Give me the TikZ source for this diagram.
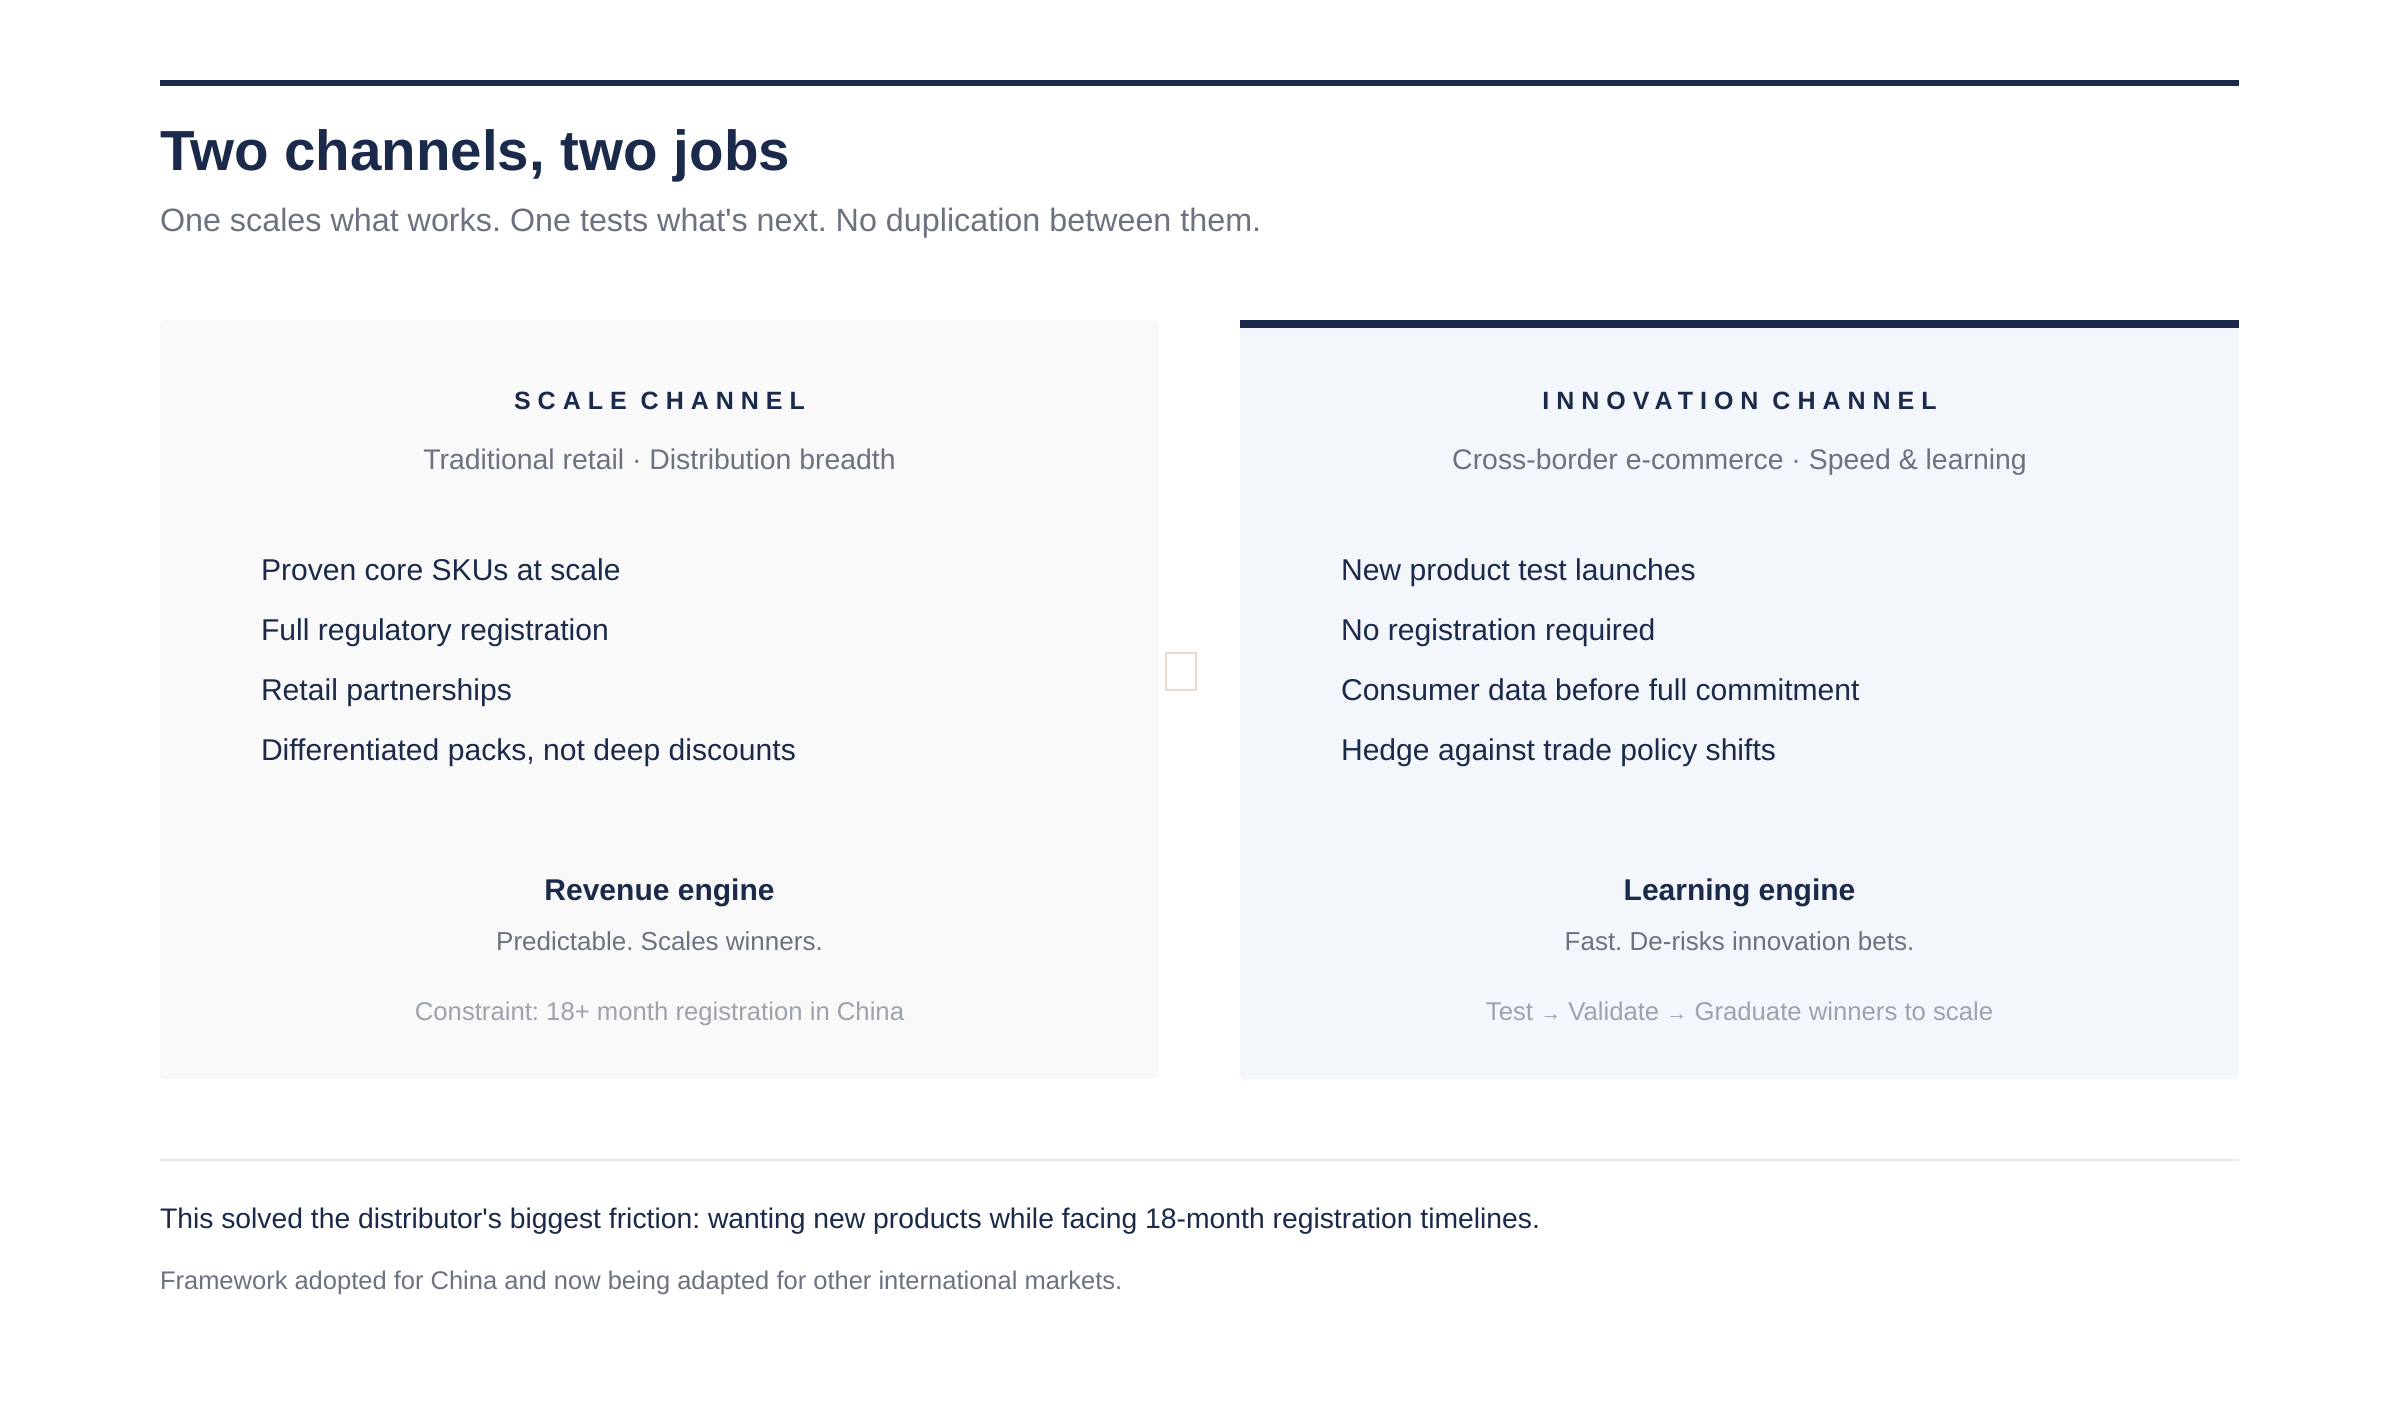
\documentclass[tikz,border=0pt]{standalone}
\usepackage{fontspec}
\setmainfont{Liberation Sans}[Ligatures=TeXOff]
\frenchspacing
\definecolor{navy}{HTML}{1B2A4A}
\definecolor{midgray}{HTML}{6B7280}
\definecolor{lightgray}{HTML}{9CA3AF}
\definecolor{panelL}{HTML}{F9F9F9}
\definecolor{panelR}{HTML}{F3F6FB}
\definecolor{rulegray}{HTML}{E5E7EB}
\definecolor{boxedge}{HTML}{E6DCCB}
\tikzset{
  txt/.style={inner sep=0pt, outer sep=0pt},
  titlesty/.style={txt, anchor=base west, text=navy, font=\fontsize{56.5}{60}\selectfont\bfseries},
  substy/.style={txt, anchor=base west, text=midgray, font=\fontsize{32.3}{36}\selectfont},
  headsty/.style={txt, anchor=base, text=navy, font=\fontsize{25}{30}\selectfont\bfseries\addfontfeature{LetterSpace=28}},
  chsub/.style={txt, anchor=base, text=midgray, font=\fontsize{28.4}{32}\selectfont},
  itemsty/.style={txt, anchor=base west, text=navy, font=\fontsize{30.1}{34}\selectfont},
  engsty/.style={txt, anchor=base, text=navy, font=\fontsize{30}{34}\selectfont\bfseries},
  descsty/.style={txt, anchor=base, text=midgray, font=\fontsize{26}{30}\selectfont},
  notesty/.style={txt, anchor=base, text=lightgray, font=\fontsize{25.7}{30}\selectfont},
  arr/.style={font=\fontsize{21}{24}\selectfont},
  foot1/.style={txt, anchor=base west, text=navy, font=\fontsize{28.3}{32}\selectfont},
  foot2/.style={txt, anchor=base west, text=midgray, font=\fontsize{25.5}{30}\selectfont},
}
\newcommand{\smallarrow}{{\fontsize{21}{24}\selectfont →}}
\begin{document}
\begin{tikzpicture}[x=1pt,y=-1pt]
\useasboundingbox[fill=white] (0,0) rectangle (2400,1400);
% top rule
\fill[navy] (160,80) rectangle (2239,86);
\node[titlesty] (title) at (160,170) {Two channels, two jobs};
\node[substy] (sub) at (160,231) {One scales what works. One tests what's next. No duplication between them.};
% panels
\fill[panelL, rounded corners=4] (160,320) rectangle (1159,1079);
\fill[panelR, rounded corners=4] (1240,320) rectangle (2239,1079);
\fill[navy] (1240,320) rectangle (2239,328);
% small box between panels
\node[draw=boxedge, line width=1.5, fill=white, minimum width=30, minimum height=37, inner sep=0pt, anchor=north west] (gap) at (1165,652) {};
% left panel text
\node[headsty] (lh) at (659.5,409) {SCALE CHANNEL};
\node[chsub] (ls) at (659.5,469) {Traditional retail · Distribution breadth};
\node[itemsty] (l1) at (261,580) {Proven core SKUs at scale};
\node[itemsty] (l2) at (261,640) {Full regulatory registration};
\node[itemsty] (l3) at (261,700) {Retail partnerships};
\node[itemsty] (l4) at (261,760) {Differentiated packs, not deep discounts};
\node[engsty] (le) at (659.5,900) {Revenue engine};
\node[descsty] (ld) at (659.5,950) {Predictable. Scales winners.};
\node[notesty] (ln) at (659.5,1020) {Constraint: 18+ month registration in China};
% right panel text
\node[headsty] (rh) at (1739.5,409) {INNOVATION CHANNEL};
\node[chsub] (rs) at (1739.5,469) {Cross-border e-commerce · Speed \& learning};
\node[itemsty] (r1) at (1341,580) {New product test launches};
\node[itemsty] (r2) at (1341,640) {No registration required};
\node[itemsty] (r3) at (1341,700) {Consumer data before full commitment};
\node[itemsty] (r4) at (1341,760) {Hedge against trade policy shifts};
\node[engsty] (re) at (1739.5,900) {Learning engine};
\node[descsty] (rd) at (1739.5,950) {Fast. De-risks innovation bets.};
\node[notesty] (rn) at (1739.5,1020) {Test \smallarrow{} Validate \smallarrow{} Graduate winners to scale};
% footer
\draw[rulegray, line width=2] (160,1160) -- (2239,1160);
\node[foot1] (f1) at (160,1228) {This solved the distributor's biggest friction: wanting new products while facing 18-month registration timelines.};
\node[foot2] (f2) at (160,1289) {Framework adopted for China and now being adapted for other international markets.};
\end{tikzpicture}
\end{document}
